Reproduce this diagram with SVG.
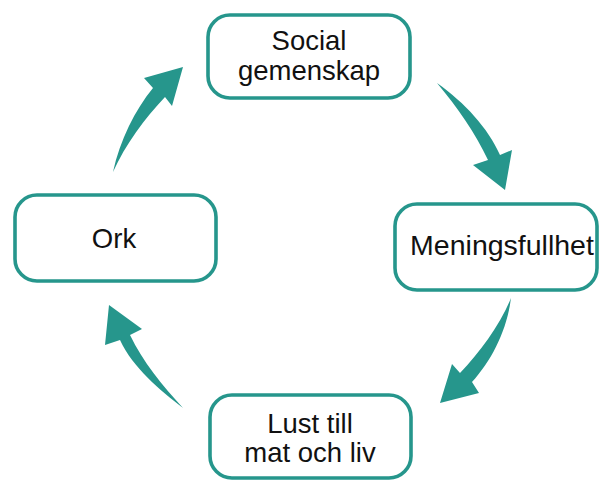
<svg xmlns="http://www.w3.org/2000/svg" width="600" height="482" viewBox="0 0 600 482">
<style>
.box{fill:#ffffff;stroke:#26968c;stroke-width:3.6}
.lbl{font-family:"Liberation Sans",Arial,sans-serif;font-size:27.5px;fill:#111111;text-anchor:middle}
.arr{fill:#26968c;stroke:none}
</style>
<rect width="600" height="482" fill="#ffffff"/>
<g id="connectors">
<path class="arr" d="M113,172 C120,140 135,110 153,88 L144,78 L183,67 L172,106 L165,97 C145,118 125,145 113,172 Z"/>
<path class="arr" d="M437,83 C465,103 488,128 500,155 L512,150 L505,190 L473,165 L488,160 C475,133 458,108 437,83 Z"/>
<path class="arr" d="M511,298 C507,330 492,360 472,382 L479,393 L440,403 L452,364 L460,373 C480,352 500,325 511,298 Z"/>
<path class="arr" d="M183,408 C160,390 133,368 120,340 L105,345 L109,305 L142,329 L130,335 C143,362 162,385 183,408 Z"/>
</g>
<g id="social">
<rect class="box" x="208" y="15" width="202" height="83" rx="22"/>
<text class="lbl" x="309" y="50">Social</text>
<text class="lbl" x="309" y="80">gemenskap</text>
</g>
<g id="meningsfullhet">
<rect class="box" x="395" y="204" width="202" height="86" rx="22"/>
<text class="lbl" x="502" y="255" style="font-size:28.5px">Meningsfullhet</text>
</g>
<g id="lust">
<rect class="box" x="210" y="395" width="201" height="83" rx="22"/>
<text class="lbl" x="310" y="433">Lust till</text>
<text class="lbl" x="310" y="462">mat och liv</text>
</g>
<g id="ork">
<rect class="box" x="15" y="195" width="201" height="86" rx="22"/>
<text class="lbl" x="114" y="248">Ork</text>
</g>
</svg>
